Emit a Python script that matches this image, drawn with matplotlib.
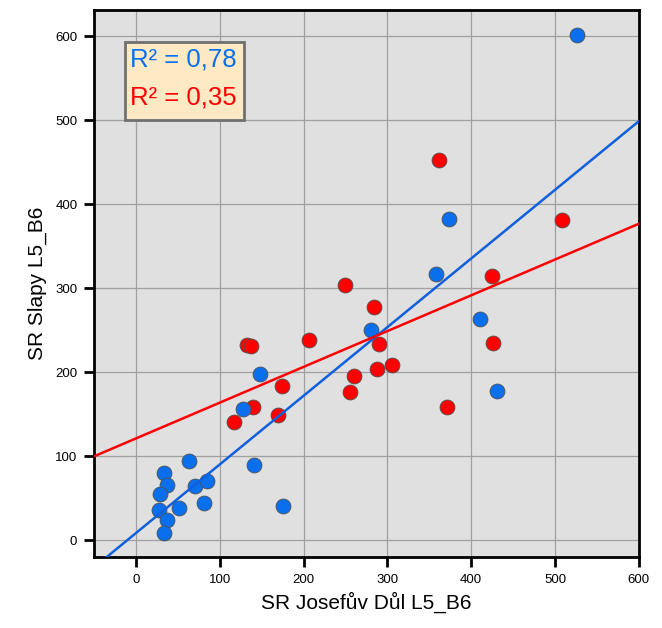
import numpy as np
import matplotlib.pyplot as plt
from matplotlib.patches import Rectangle

plt.rcParams['font.family'] = ['Liberation Sans', 'DejaVu Sans']

# blue series
blue_x = [526, 373, 358, 280, 410, 431, 148, 128, 141, 176, 63, 34, 37, 29,
          71, 85, 81, 52, 27, 37, 34]
blue_y = [601, 382, 317, 250, 263, 178, 198, 156, 89, 41, 94, 80, 66, 55,
          64, 70, 44, 38, 36, 24, 9]
# red series
red_x = [361, 508, 425, 284, 290, 288, 305, 426, 371, 250, 132, 137, 206,
         174, 260, 255, 140, 117, 170]
red_y = [452, 381, 314, 277, 234, 204, 208, 235, 158, 304, 232, 231, 238,
         183, 196, 177, 159, 141, 149]

BLUE = "#0a6fec"
RED = "#ff0000"

fig = plt.figure(figsize=(6.62, 6.28), dpi=100)
ax = fig.add_axes([0.142, 0.113, 0.823, 0.871])
ax.set_facecolor("#e0e0e0")

ax.scatter(blue_x, blue_y, s=115, c=BLUE, edgecolors="#505050",
           linewidths=0.6, zorder=4)
ax.scatter(red_x, red_y, s=115, c=RED, edgecolors="#505050",
           linewidths=0.6, zorder=3)

# linear trend lines
xs = np.array([-50, 600])
bb = np.polyfit(blue_x, blue_y, 1)
rb = np.polyfit(red_x, red_y, 1)
ax.plot(xs, np.polyval(bb, xs), color="#1060dc", lw=1.8, zorder=5)
ax.plot(xs, np.polyval(rb, xs), color=RED, lw=1.8, zorder=5)

ax.set_xlim(-50, 600)
ax.set_ylim(-20, 631)
ax.set_xticks(range(0, 601, 100))
ax.set_yticks(range(0, 601, 100))
ax.grid(True, color="#a0a0a0", lw=0.9)
ax.set_axisbelow(True)
for s in ax.spines.values():
    s.set_linewidth(2)
    s.set_color("black")
ax.tick_params(direction="out", length=7, width=2, labelsize=9.5, pad=5)
ax.set_xlabel("SR Josefův Důl L5_B6", fontsize=15, labelpad=4)
ax.set_ylabel("SR Slapy L5_B6", fontsize=15, labelpad=6)

# R² box
ax.add_patch(Rectangle((0.057, 0.799), 0.218, 0.142, transform=ax.transAxes,
                       facecolor="#fde9c4", edgecolor="#707070", lw=2,
                       zorder=6))
ax.text(0.066, 0.909, "R² = 0,78", color=BLUE, fontsize=18.5,
        transform=ax.transAxes, va="center", zorder=7)
ax.text(0.066, 0.841, "R² = 0,35", color=RED, fontsize=18.5,
        transform=ax.transAxes, va="center", zorder=7)

fig.savefig("out.png", dpi=100)
